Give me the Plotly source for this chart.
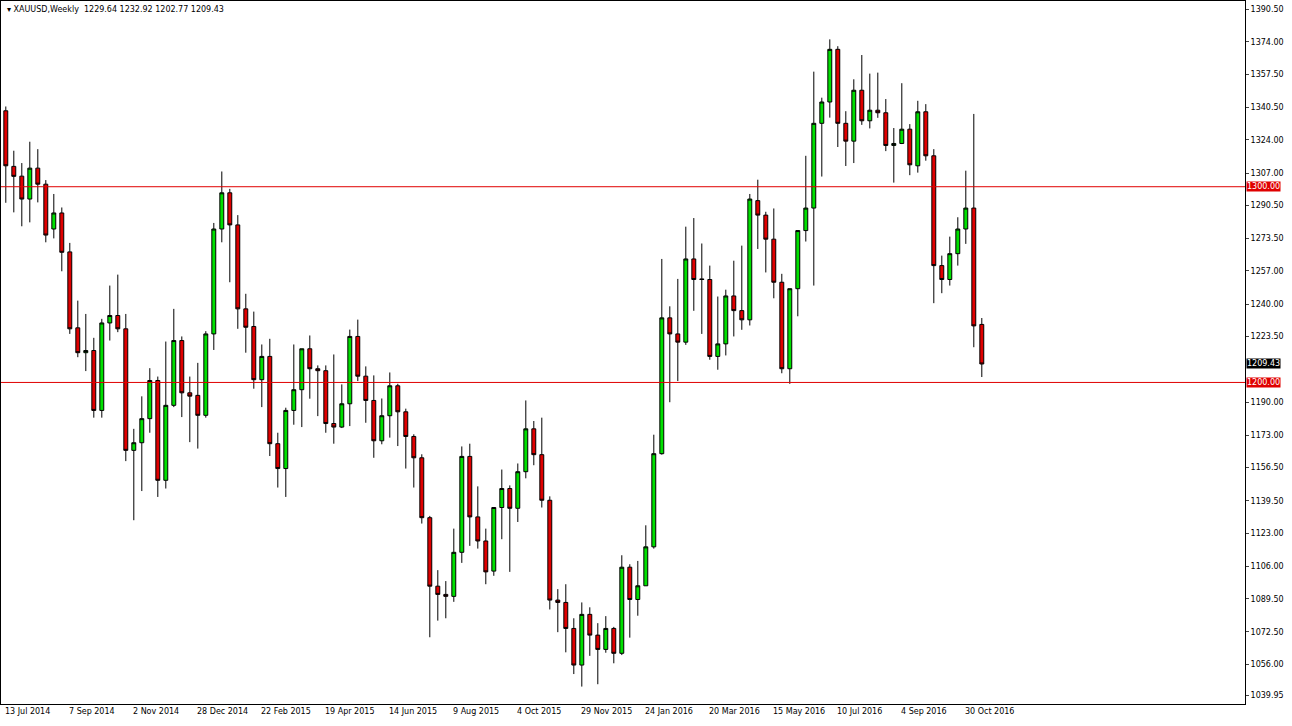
import plotly.graph_objects as go

opens = [1338.8,1310.4,1305.4,1293.7,1309.5,1301.3,1278.4,1286.6,1266.7,1227.9,
 1215.2,1216.3,1185.7,1230.4,1234.2,1227.4,1165.3,1169.2,1181.5,1201.0,
 1150.0,1188.3,1221.4,1194.7,1193.4,1183.2,1224.8,1278.4,1296.9,1280.5,
 1237.6,1228.6,1201.4,1213.3,1168.7,1156.0,1185.7,1196.3,1217.2,1207.0,
 1206.0,1179.0,1177.2,1189.1,1223.5,1203.2,1190.8,1170.2,1183.0,1198.3,
 1185.0,1172.4,1161.5,1130.9,1095.9,1091.7,1090.7,1113.2,1162.2,1131.3,
 1119.0,1103.6,1136.1,1145.8,1135.7,1154.4,1176.3,1163.1,1139.8,1088.8,
 1087.6,1074.3,1055.6,1081.5,1070.9,1063.6,1074.3,1061.6,1105.6,1089.1,
 1096.1,1116.0,1163.6,1233.0,1224.8,1220.6,1263.1,1252.9,1252.6,1213.3,
 1219.7,1244.2,1236.7,1232.0,1292.9,1285.5,1273.2,1251.2,1207.0,1247.9,
 1277.6,1289.1,1332.4,1343.3,1370.2,1332.4,1323.3,1349.3,1333.7,1339.1,
 1337.8,1321.1,1322.1,1329.4,1310.7,1338.3,1315.8,1259.7,1252.6,1265.8,
 1278.4,1289.1,1229.64]
highs = [1341.0,1318.4,1312.1,1323.0,1319.2,1303.4,1296.3,1289.4,1271.3,1241.8,
 1235.0,1222.8,1232.5,1249.5,1255.1,1235.0,1176.3,1192.9,1207.3,1203.0,
 1220.9,1237.6,1223.5,1203.0,1210.0,1226.2,1281.5,1307.8,1298.9,1285.5,
 1245.3,1236.2,1219.4,1222.3,1174.3,1187.1,1219.4,1217.2,1224.0,1208.7,
 1208.7,1214.3,1199.0,1227.0,1232.1,1208.2,1203.6,1191.8,1205.1,1199.3,
 1186.6,1173.5,1163.3,1131.8,1104.1,1098.5,1125.3,1167.3,1168.7,1146.9,
 1125.3,1136.1,1155.5,1147.4,1158.6,1190.8,1180.3,1182.0,1141.8,1094.4,
 1096.9,1079.5,1087.6,1085.1,1077.0,1080.6,1075.1,1111.7,1107.1,1108.8,
 1127.0,1173.3,1263.1,1238.9,1252.9,1279.6,1284.0,1271.0,1259.7,1243.9,
 1247.4,1262.2,1269.9,1296.3,1303.6,1287.2,1288.9,1255.5,1247.9,1277.6,
 1315.8,1358.8,1345.5,1375.3,1371.8,1338.6,1354.9,1367.3,1357.8,1358.3,
 1344.8,1330.0,1352.9,1332.0,1343.9,1342.2,1319.2,1264.8,1274.5,1284.4,
 1308.2,1337.2,1232.92]
lows = [1291.8,1286.9,1279.8,1281.8,1292.0,1271.6,1273.6,1256.8,1224.8,1212.9,
 1205.8,1182.0,1182.0,1221.4,1225.7,1159.8,1129.6,1144.5,1174.3,1141.5,
 1145.8,1187.4,1182.3,1169.5,1166.2,1182.0,1216.6,1271.6,1251.2,1227.4,
 1215.2,1196.8,1187.4,1162.4,1146.3,1141.5,1178.4,1177.2,1191.7,1182.8,
 1174.3,1168.7,1176.7,1177.7,1200.7,1179.4,1161.5,1168.4,1171.8,1167.5,
 1156.0,1146.3,1127.9,1069.8,1078.3,1079.5,1087.9,1107.8,1116.5,1115.1,
 1096.9,1101.2,1119.9,1103.2,1128.7,1151.0,1157.7,1136.1,1084.0,1072.4,
 1062.1,1051.0,1044.6,1060.3,1045.8,1061.9,1056.5,1060.7,1069.6,1080.8,
 1096.1,1115.1,1163.1,1189.9,1200.7,1219.2,1236.6,1224.8,1211.6,1206.5,
 1213.8,1223.5,1226.9,1229.1,1268.2,1256.2,1243.0,1204.7,1199.3,1233.8,
 1272.0,1249.5,1305.2,1335.3,1320.3,1310.6,1312.1,1331.6,1329.8,1335.2,
 1318.2,1302.1,1321.8,1305.9,1307.2,1313.3,1240.5,1245.6,1249.5,1259.7,
 1270.8,1218.0,1202.77]
closes = [1310.7,1305.3,1293.7,1309.5,1301.3,1275.3,1286.6,1266.5,1227.4,1215.2,
 1216.3,1185.7,1230.4,1234.2,1227.4,1165.3,1169.2,1181.5,1201.0,1150.0,
 1188.3,1221.4,1194.7,1193.0,1183.2,1224.8,1278.4,1296.9,1280.5,1237.6,
 1228.2,1201.4,1213.3,1168.7,1156.0,1185.7,1196.3,1217.2,1207.0,1206.0,
 1179.0,1177.2,1189.1,1223.5,1203.2,1190.8,1170.2,1183.0,1198.3,1185.0,
 1172.4,1161.5,1130.9,1095.9,1091.7,1090.7,1113.2,1162.2,1131.3,1119.0,
 1103.2,1136.1,1145.8,1135.7,1154.4,1176.3,1163.1,1139.8,1088.8,1087.6,
 1074.3,1055.6,1081.5,1070.9,1063.6,1074.3,1061.6,1105.6,1089.1,1096.1,
 1116.0,1163.6,1233.0,1224.8,1220.6,1263.1,1252.6,1252.6,1213.3,1219.7,
 1244.2,1236.7,1232.0,1293.7,1285.5,1273.2,1251.2,1207.0,1247.9,1277.6,
 1289.1,1332.4,1343.3,1370.2,1332.4,1323.3,1349.3,1333.7,1339.1,1337.8,
 1321.1,1322.1,1329.4,1311.2,1338.3,1315.8,1259.7,1252.6,1265.8,1278.4,
 1289.1,1228.9,1209.43]

date_label_idx = [0,8,16,24,32,40,48,56,64,72,80,88,96,104,112,120]
date_labels = ["13 Jul 2014","7 Sep 2014","2 Nov 2014","28 Dec 2014","22 Feb 2015",
 "19 Apr 2015","14 Jun 2015","9 Aug 2015","4 Oct 2015","29 Nov 2015","24 Jan 2016",
 "20 Mar 2016","15 May 2016","10 Jul 2016","4 Sep 2016","30 Oct 2016"]
price_ticks = [1390.50,1374.00,1357.50,1340.50,1324.00,1307.00,1290.50,1273.50,1257.00,
 1240.00,1223.50,1190.00,1173.00,1156.50,1139.50,1123.00,1106.00,1089.50,1072.50,1056.00,1039.95]
levels = [1300.00, 1200.00]
last_price = 1209.43
title_text = "XAUUSD,Weekly  1229.64 1232.92 1202.77 1209.43"

FONT = "DejaVu Sans"
idx = list(range(len(opens)))
fig = go.Figure(go.Candlestick(
    x=idx, open=opens, high=highs, low=lows, close=closes,
    increasing=dict(fillcolor="#00e000", line=dict(color="black", width=1)),
    decreasing=dict(fillcolor="#e00000", line=dict(color="black", width=1)),
    whiskerwidth=0, showlegend=False, hoverinfo="skip"))

for lv in levels:
    fig.add_shape(type="line", xref="paper", x0=0, x1=1, y0=lv, y1=lv,
                  line=dict(color="#e00000", width=1))
    fig.add_annotation(xref="paper", x=1.0, y=lv, xanchor="left", yanchor="middle", xshift=1,
                       text=f"{lv:.2f}", showarrow=False, bgcolor="#e00000",
                       font=dict(color="white", size=8, family=FONT), borderpad=0)
fig.add_annotation(xref="paper", x=1.0, y=last_price, xanchor="left", yanchor="middle", xshift=1,
                   text=f"{last_price:.2f}", showarrow=False, bgcolor="black",
                   font=dict(color="white", size=8, family=FONT), borderpad=0)

for i, t in zip(date_label_idx, date_labels):
    fig.add_annotation(x=i, yref="paper", y=0, yanchor="top", xanchor="left", xshift=-3, yshift=-1,
                       text=t, showarrow=False, font=dict(size=8, color="black", family=FONT))

fig.add_annotation(xref="paper", yref="paper", x=0, y=1, xanchor="left", yanchor="top",
                   xshift=4, yshift=-2, text="▾ " + title_text, showarrow=False,
                   font=dict(size=8, color="black", family=FONT))

fig.update_layout(
    width=1292, height=726, paper_bgcolor="white", plot_bgcolor="white",
    margin=dict(l=1, r=47, t=1, b=22, autoexpand=False),
    xaxis=dict(range=[-0.6, 154.9], showticklabels=False, showgrid=False, zeroline=False,
               rangeslider=dict(visible=False), showline=True, linecolor="black", mirror=True,
               ticks="", automargin=False),
    yaxis=dict(range=[1035.7, 1394.9], side="right", tickvals=price_ticks,
               ticktext=[f"{v:.2f}" for v in price_ticks], showgrid=False, zeroline=False,
               showline=True, linecolor="black", mirror=True, ticks="outside", ticklen=3,
               automargin=False, tickfont=dict(size=8, family=FONT, color="black")),
)
fig.write_html("out.html", config={"displayModeBar": False},
               post_script="document.body.style.margin='0';document.body.style.overflow='hidden';")
